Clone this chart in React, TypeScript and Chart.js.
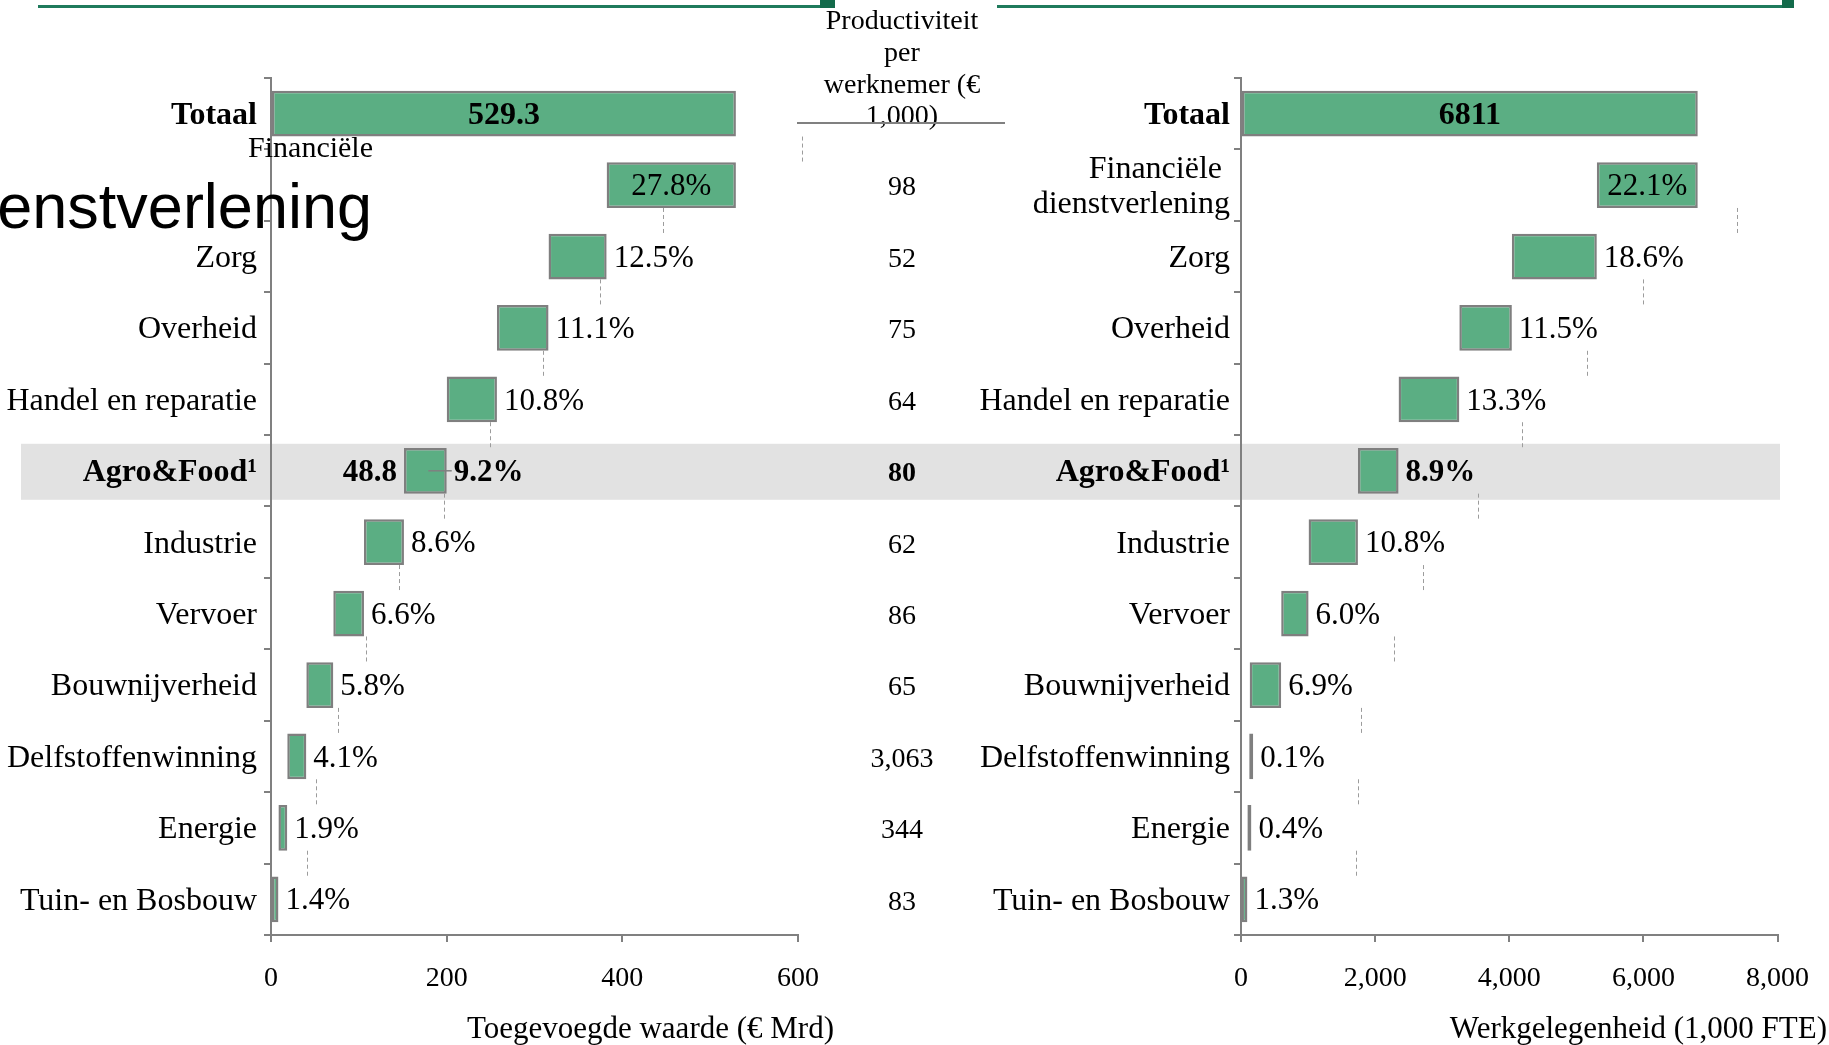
import React, { useEffect, useRef } from 'react';
import { Chart, registerables } from 'chart.js';

Chart.register(...registerables);

const SERIF = "'Liberation Serif', 'Times New Roman', serif";
const SANS = "'Liberation Sans', Arial, sans-serif";

// ---------- data ----------
const categories = [
  'Totaal',
  'Financiële dienstverlening',
  'Zorg',
  'Overheid',
  'Handel en reparatie',
  'Agro&Food¹',
  'Industrie',
  'Vervoer',
  'Bouwnijverheid',
  'Delfstoffenwinning',
  'Energie',
  'Tuin- en Bosbouw',
];

const valueAddedTotal = 529.3; // € Mrd
const valueAddedShares = [27.8, 12.5, 11.1, 10.8, 9.2, 8.6, 6.6, 5.8, 4.1, 1.9, 1.4];
const valueAddedAgroLabel = '48.8';
const valueAddedTicks = [0, 200, 400, 600];
// x-position (in € Mrd) of the dashed guide below each row, as seen in the picture
const valueAddedGuides: (number | null)[] = [604, 446, 375, 310, 249, 197, 146, 108, 76, 51, 41];

const employmentTotal = 6811; // 1,000 FTE
const employmentShares = [22.1, 18.6, 11.5, 13.3, 8.9, 10.8, 6.0, 6.9, 0.1, 0.4, 1.3];
const employmentTicks = [0, 2000, 4000, 6000, 8000];
// x-position (in 1,000 FTE) of the dashed guide below each row, as seen in the picture
const employmentGuides: (number | null)[] = [null, 7394, 5991, 5160, 4190, 3532, 2719, 2286, 1784, 1749, 1714];

const productivityHeader = ['Productiviteit', 'per', 'werknemer (€', '1,000)'];
const productivity = ['98', '52', '75', '64', '80', '62', '86', '65', '3,063', '344', '83'];

const valueAddedTitle = 'Toegevoegde waarde (€ Mrd)';
const employmentTitle = 'Werkgelegenheid (1,000 FTE)';

const AGRO = 5;
const BAR_PCT = 0.64;
const GREEN = '#5BAE83';
const EDGE = '#7F7F7F';
const AXIS = '#808080';
const TEXT_DY = 2;

function waterfall(total: number, shares: number[]): [number, number][] {
  const out: [number, number][] = [[0, total]];
  let end = total;
  shares.forEach((s) => {
    const v = (total * s) / 100;
    out.push([end - v, end]);
    end -= v;
  });
  return out;
}

type Side = {
  id: string;
  total: number;
  totalLabel: string;
  shares: number[];
  guides: (number | null)[];
  ticks: number[];
  max: number;
  title: string;
  agroLeft?: string;
  isLeft: boolean;
};

function makePlugin(side: Side) {
  return {
    id: 'custom_' + side.id,
    beforeDraw(chart: any) {
      if (!side.isLeft) return;
      const ctx = chart.ctx;
      const y = chart.scales.y;
      const c = y.getPixelForValue(AGRO);
      ctx.save();
      // highlight band for Agro&Food across both panels
      ctx.fillStyle = '#E2E2E2';
      ctx.fillRect(21, c - 27, 1780 - 21, 56);
      // top green rules
      ctx.fillStyle = '#1F7A5C';
      ctx.fillRect(38, 5, 782, 3);
      ctx.fillRect(997, 5, 785, 3);
      ctx.fillStyle = '#136B4B';
      ctx.fillRect(820, 0, 15, 8);
      ctx.fillRect(1782, 0, 12, 8);
      ctx.restore();
    },
    afterDatasetsDraw(chart: any) {
      const ctx = chart.ctx;
      const xs = chart.scales.x;
      const ys = chart.scales.y;
      const rowH = ys.getPixelForValue(1) - ys.getPixelForValue(0);
      const half = (rowH * BAR_PCT) / 2;
      ctx.save();
      // dashed guides
      ctx.strokeStyle = '#9C9C9C';
      ctx.lineWidth = 1;
      ctx.setLineDash([4, 3]);
      side.guides.forEach((g, i) => {
        if (g == null) return;
        const px = Math.round(xs.getPixelForValue(g)) + 0.5;
        ctx.beginPath();
        ctx.moveTo(px, ys.getPixelForValue(i) + half);
        ctx.lineTo(px, ys.getPixelForValue(i + 1) - half);
        ctx.stroke();
      });
      ctx.setLineDash([]);

      // value labels
      const meta = chart.getDatasetMeta(0);
      ctx.fillStyle = '#000';
      ctx.textBaseline = 'middle';
      meta.data.forEach((el: any, i: number) => {
        const p = el.getProps(['x', 'base', 'y'], true);
        const l = Math.min(p.x, p.base);
        const r = Math.max(p.x, p.base);
        const cy = p.y + TEXT_DY;
        if (i === 0) {
          ctx.font = `bold 32px ${SERIF}`;
          ctx.textAlign = 'center';
          ctx.fillText(side.totalLabel, (l + r) / 2, cy);
          return;
        }
        const txt = side.shares[i - 1].toFixed(1) + '%';
        if (i === 1) {
          ctx.font = `31px ${SERIF}`;
          ctx.textAlign = 'center';
          ctx.fillText(txt, (l + r) / 2, cy);
          return;
        }
        ctx.font = `${i === AGRO ? 'bold ' : ''}31px ${SERIF}`;
        ctx.textAlign = 'left';
        ctx.fillText(txt, r + 7, cy);
        if (i === AGRO && side.agroLeft) {
          ctx.font = `bold 31px ${SERIF}`;
          ctx.textAlign = 'right';
          ctx.fillText(side.agroLeft, l - 7, cy);
          ctx.strokeStyle = AXIS;
          ctx.lineWidth = 1.5;
          ctx.beginPath();
          ctx.moveTo((l + r) / 2 + 3, p.y);
          ctx.lineTo(r + 5, p.y);
          ctx.stroke();
        }
      });
      ctx.restore();
    },
    afterDraw(chart: any) {
      const ctx = chart.ctx;
      const xs = chart.scales.x;
      const ys = chart.scales.y;
      ctx.save();
      ctx.fillStyle = '#000';
      // axis title, right aligned as in the picture
      ctx.font = `31px ${SERIF}`;
      ctx.textAlign = 'right';
      ctx.textBaseline = 'middle';
      ctx.fillText(side.title, side.isLeft ? xs.right + 36 : chart.width - 2, 1030);

      if (side.isLeft) {
        // odd two-part label for the second row in the left panel
        const parts = categories[1].split(' ');
        const c1 = ys.getPixelForValue(1);
        ctx.font = `30px ${SERIF}`;
        ctx.textAlign = 'right';
        ctx.textBaseline = 'middle';
        ctx.fillText(parts[0], ys.right + 102, c1 - 36);
        ctx.font = `63px ${SANS}`;
        ctx.textBaseline = 'alphabetic';
        ctx.fillText(parts[1], ys.right + 101, c1 + 43);

        // middle column: productivity per employee
        const mx = 902;
        ctx.font = `28px ${SERIF}`;
        ctx.textAlign = 'center';
        ctx.textBaseline = 'middle';
        productivityHeader.forEach((t, k) => ctx.fillText(t, mx, 22 + k * 31.7));
        ctx.strokeStyle = AXIS;
        ctx.lineWidth = 2;
        ctx.beginPath();
        ctx.moveTo(797, 123);
        ctx.lineTo(1005, 123);
        ctx.stroke();
        productivity.forEach((t, k) => {
          ctx.font = `${k + 1 === AGRO ? 'bold ' : ''}28px ${SERIF}`;
          ctx.fillText(t, mx, ys.getPixelForValue(k + 1) + 3);
        });
      }
      ctx.restore();
    },
  };
}

function buildConfig(side: Side, yWidth: number, padRight: number) {
  const bars = waterfall(side.total, side.shares);
  return {
    type: 'bar' as const,
    data: {
      labels: categories,
      datasets: [
        {
          data: bars,
          backgroundColor: GREEN,
          borderColor: EDGE,
          borderWidth: 2.5,
          borderSkipped: false,
          barPercentage: BAR_PCT,
          categoryPercentage: 1,
          minBarLength: 4,
        },
      ],
    },
    options: {
      indexAxis: 'y' as const,
      animation: false as const,
      responsive: false,
      devicePixelRatio: 1,
      layout: { padding: { top: 78, right: padRight, left: 0, bottom: 0 } },
      plugins: { legend: { display: false }, tooltip: { enabled: false } },
      scales: {
        x: {
          type: 'linear' as const,
          min: 0,
          max: side.max,
          afterBuildTicks: (s: any) => {
            s.ticks = side.ticks.map((v) => ({ value: v }));
          },
          ticks: {
            font: { family: SERIF, size: 28 },
            color: '#000',
            padding: 20,
            callback: (v: any) => Number(v).toLocaleString('en-US'),
          },
          grid: { drawOnChartArea: false, drawTicks: true, tickLength: 7, color: AXIS, lineWidth: 2 },
          border: { color: AXIS, width: 2 },
          afterFit: (s: any) => {
            s.height = 110;
          },
        },
        y: {
          type: 'category' as const,
          offset: true,
          ticks: {
            color: '#000',
            padding: side.isLeft ? 7 : 4,
            autoSkip: false,
            labelOffset: TEXT_DY,
            font: (c: any) => ({
              family: SERIF,
              size: 32,
              lineHeight: 1.1,
              weight: c.index === 0 || c.index === AGRO ? 'bold' : 'normal',
            }),
            callback: (_v: any, i: number) => {
              if (i === 1) {
                if (side.isLeft) return '';
                const parts = categories[1].split(' ');
                return [parts[0] + ' ', parts[1]];
              }
              return categories[i];
            },
          },
          grid: { drawOnChartArea: false, drawTicks: true, tickLength: 7, color: AXIS, lineWidth: 2, offset: true },
          border: { color: AXIS, width: 2 },
          afterFit: (s: any) => {
            s.width = yWidth;
          },
        },
      },
    },
    plugins: [makePlugin(side)],
  };
}

export default function App() {
  const leftRef = useRef<HTMLCanvasElement>(null);
  const rightRef = useRef<HTMLCanvasElement>(null);

  useEffect(() => {
    const leftSide: Side = {
      id: 'va',
      total: valueAddedTotal,
      totalLabel: valueAddedTotal.toFixed(1),
      shares: valueAddedShares,
      guides: valueAddedGuides,
      ticks: valueAddedTicks,
      max: valueAddedTicks[valueAddedTicks.length - 1],
      title: valueAddedTitle,
      agroLeft: valueAddedAgroLabel,
      isLeft: true,
    };
    const rightSide: Side = {
      id: 'emp',
      total: employmentTotal,
      totalLabel: String(employmentTotal),
      shares: employmentShares,
      guides: employmentGuides,
      ticks: employmentTicks,
      max: employmentTicks[employmentTicks.length - 1],
      title: employmentTitle,
      isLeft: false,
    };
    const left = new Chart(leftRef.current as HTMLCanvasElement, buildConfig(leftSide, 271, 1829 - 798) as any);
    const right = new Chart(rightRef.current as HTMLCanvasElement, buildConfig(rightSide, 1241, 1829 - 1780) as any);
    return () => {
      left.destroy();
      right.destroy();
    };
  }, []);

  return (
    <div
      style={{
        position: 'absolute',
        left: 0,
        top: 0,
        width: 1829,
        height: 1045,
        background: '#fff',
        overflow: 'hidden',
      }}
    >
      <canvas ref={leftRef} width={1829} height={1045} style={{ position: 'absolute', left: 0, top: 0 }} />
      <canvas ref={rightRef} width={1829} height={1045} style={{ position: 'absolute', left: 0, top: 0 }} />
    </div>
  );
}
